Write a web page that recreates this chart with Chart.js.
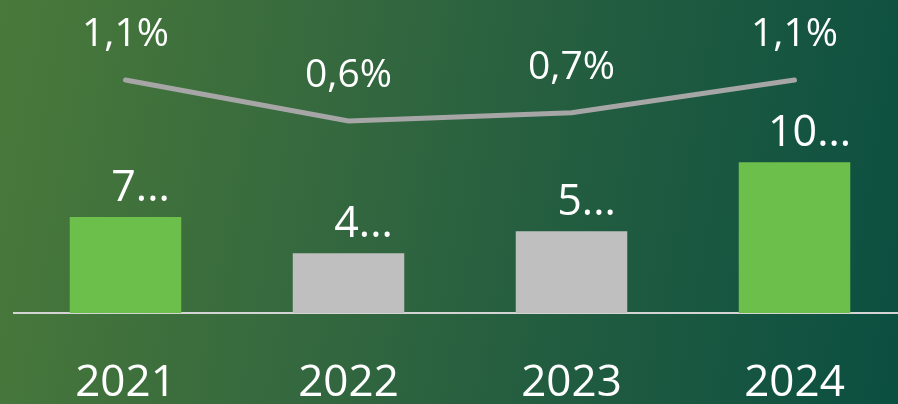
<!DOCTYPE html>
<html>
<head>
<meta charset="utf-8">
<script src="https://cdn.jsdelivr.net/npm/chart.js@4.4.1/dist/chart.umd.min.js"></script>
<style>
  html, body {
    margin: 0;
    padding: 0;
    width: 898px;
    height: 404px;
    overflow: hidden;
    background: linear-gradient(100deg, #4a7a3a 0%, #36693e 35%, #215c40 65%, #0b4f41 100%);
  }
  #wrap { position: absolute; left: 0; top: 0; width: 910px; height: 404px; }
</style>
</head>
<body>
<div id="wrap"><canvas id="myChart" width="910" height="404"></canvas></div>
<script>
// years on the x axis
const years = ["2021", "2022", "2023", "2024"];
// bar values
const barValues = [6.74, 4.2, 5.75, 10.6];
// bar labels as shown (cut off in the picture)
const barLabels = ["7...", "4...", "5...", "10..."];
// bar colours: green for 2021 and 2024, grey for the others
const barColors = ["#6dbf4b", "#bfbfbf", "#bfbfbf", "#6dbf4b"];
// percentages on the line
const pctValues = [1.1, 0.6, 0.7, 1.1];

// drawing the value labels above bars and points
const labelPlugin = {
  id: "labels",
  afterDatasetsDraw(chart) {
    const ctx = chart.ctx;
    ctx.save();
    ctx.fillStyle = "#ffffff";
    ctx.textAlign = "center";
    ctx.textBaseline = "alphabetic";
    // bars
    ctx.font = "43px 'Open Sans'";
    chart.getDatasetMeta(0).data.forEach((bar, i) => {
      ctx.fillText(barLabels[i], bar.x + 15, bar.y - 16);
    });
    // line points
    ctx.font = "39px 'Open Sans'";
    chart.getDatasetMeta(1).data.forEach((pt, i) => {
      const txt = pctValues[i].toFixed(1).replace(".", ",") + "%";
      ctx.fillText(txt, pt.x, pt.y - 34);
    });
    ctx.restore();
  },
};

const ctx = document.getElementById("myChart").getContext("2d");
const myChart = new Chart(ctx, {
  type: "bar",
  data: {
    labels: years,
    datasets: [
      {
        // the bars
        type: "bar",
        data: barValues,
        backgroundColor: barColors,
        barPercentage: 0.5,
        categoryPercentage: 1,
        yAxisID: "y",
        order: 2,
      },
      {
        // the grey line
        type: "line",
        data: pctValues,
        borderColor: "#a6a6a6",
        borderWidth: 5,
        borderCapStyle: "round",
        pointRadius: 0,
        tension: 0,
        fill: false,
        yAxisID: "y1",
        order: 1,
      },
    ],
  },
  options: {
    responsive: false,
    animation: false,
    layout: { padding: { left: 14, right: 4, top: 0, bottom: 0 } },
    plugins: {
      legend: { display: false },
      tooltip: { enabled: false },
    },
    scales: {
      x: {
        grid: { display: false, drawTicks: false },
        border: { display: true, color: "#d4d4d4", width: 2 },
        ticks: {
          color: "#ffffff",
          font: { family: "'Open Sans'", size: 44 },
          padding: 44,
        },
        afterFit(scale) {
          scale.height = 91;
        },
      },
      y: { display: false, min: 0, max: 22 },
      y1: { display: false, min: -1.741, max: 2.076 },
    },
  },
  plugins: [labelPlugin],
});
</script>
</body>
</html>
